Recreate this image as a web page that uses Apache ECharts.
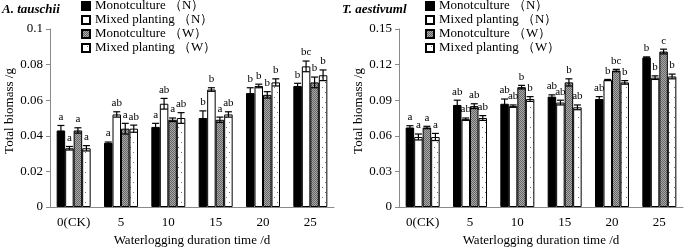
<!DOCTYPE html>
<html>
<head>
<meta charset="utf-8">
<script src="https://cdn.jsdelivr.net/npm/echarts@6/dist/echarts.min.js"></script>
<style>
  html, body { margin: 0; padding: 0; background: #fff; }
  #chart { width: 685px; height: 247px; }
</style>
</head>
<body>
<div id="chart"></div>
<script>
const categories = ['0(CK)', '5', '10', '15', '20', '25'];
const seriesNames = ['Monotculture （N）', 'Mixed planting （N）', 'Monotculture （W）', 'Mixed planting （W）'];

// A. tauschii
const aMonoN = [0.043, 0.036, 0.045, 0.050, 0.064, 0.068];
const aMixN = [0.033, 0.052, 0.058, 0.066, 0.068, 0.079];
const aMonoW = [0.043, 0.044, 0.049, 0.049, 0.063, 0.070];
const aMixW = [0.033, 0.044, 0.050, 0.052, 0.070, 0.074];
const aMonoNErr = [0.0028, 0.0005, 0.002, 0.004, 0.003, 0.0015];
const aMixNErr = [0.001, 0.0015, 0.003, 0.001, 0.001, 0.003];
const aMonoWErr = [0.0015, 0.003, 0.001, 0.0015, 0.0018, 0.003];
const aMixWErr = [0.0015, 0.002, 0.003, 0.0015, 0.002, 0.003];
const aMonoNSig = ['a', 'a', 'a', 'b', 'b', 'b'];
const aMixNSig = ['a', 'ab', 'ab', 'b', 'b', 'bc'];
const aMonoWSig = ['a', 'a', 'a', 'a', 'b', 'b'];
const aMixWSig = ['a', 'ab', 'ab', 'ab', 'b', 'b'];

// T. aestivuml
const tMonoN = [0.067, 0.086, 0.087, 0.093, 0.091, 0.126];
const tMixN = [0.059, 0.074, 0.085, 0.088, 0.107, 0.109];
const tMonoW = [0.067, 0.085, 0.101, 0.105, 0.115, 0.131];
const tMixW = [0.059, 0.075, 0.091, 0.084, 0.105, 0.110];
const tMonoNErr = [0.0015, 0.004, 0.004, 0.0015, 0.002, 0.0005];
const tMixNErr = [0.0025, 0.001, 0.001, 0.002, 0.0005, 0.0015];
const tMonoWErr = [0.001, 0.002, 0.0015, 0.003, 0.001, 0.002];
const tMixWErr = [0.003, 0.002, 0.002, 0.002, 0.0015, 0.002];
const tMonoNSig = ['a', 'ab', 'ab', 'ab', 'ab', 'b'];
const tMixNSig = ['a', 'ab', 'ab', 'ab', 'b', 'b'];
const tMonoWSig = ['a', 'ab', 'b', 'b', 'bc', 'c'];
const tMixWSig = ['a', 'ab', 'b', 'ab', 'b', 'b'];

const aTicks = { max: 0.1, interval: 0.02 };
const tTicks = { max: 0.15, interval: 0.03 };

const serif = 'Liberation Serif, Times New Roman, serif';
const axisGray = '#8a8a8a';
const barW = 8.5;

function checkerPattern() {
  const c = document.createElement('canvas');
  c.width = 2; c.height = 2;
  const ctx = c.getContext('2d');
  ctx.fillStyle = '#a9a9a9';
  ctx.fillRect(0, 0, 2, 2);
  ctx.fillStyle = '#666';
  ctx.fillRect(0, 0, 1, 1);
  ctx.fillRect(1, 1, 1, 1);
  return { image: c, repeat: 'repeat' };
}

function dotPattern() {
  const c = document.createElement('canvas');
  c.width = 8; c.height = 10;
  const ctx = c.getContext('2d');
  ctx.fillStyle = '#fff';
  ctx.fillRect(0, 0, 8, 10);
  ctx.fillStyle = '#777';
  ctx.fillRect(5, 2, 1, 1);
  ctx.fillRect(2, 7, 1, 1);
  return { image: c, repeat: 'repeat' };
}

const fills = ['#000', '#fff', checkerPattern(), dotPattern()];

function barSeries(name, data, idx, axis) {
  return {
    name: name,
    type: 'bar',
    xAxisIndex: axis,
    yAxisIndex: axis,
    data: data,
    barWidth: barW,
    barGap: '0%',
    itemStyle: { color: fills[idx], borderColor: '#000', borderWidth: 1 },
    z: 2
  };
}

function errSeries(vals, errs, sigs, idx, axis) {
  return {
    type: 'custom',
    xAxisIndex: axis,
    yAxisIndex: axis,
    data: vals.map((v, i) => [i, v, errs[i]]),
    z: 5,
    silent: true,
    renderItem: function (params, api) {
      const ci = api.value(0);
      const v = api.value(1);
      const e = api.value(2);
      const x = api.coord([ci, v])[0] + (idx - 1.5) * barW;
      const yTop = api.coord([ci, v + e])[1];
      const yBot = api.coord([ci, v - e])[1];
      const st = { stroke: '#000', lineWidth: 1.2 };
      return {
        type: 'group',
        children: [
          { type: 'line', shape: { x1: x, y1: yTop, x2: x, y2: yBot }, style: st },
          { type: 'line', shape: { x1: x - 3.5, y1: yTop, x2: x + 3.5, y2: yTop }, style: st },
          { type: 'line', shape: { x1: x - 3.5, y1: yBot, x2: x + 3.5, y2: yBot }, style: st },
          {
            type: 'text',
            style: {
              x: x, y: yTop - 3, text: sigs[params.dataIndex],
              textAlign: 'center', textVerticalAlign: 'bottom',
              font: '11px ' + serif, fill: '#000'
            }
          }
        ]
      };
    }
  };
}

function makeAxes(ticks, gridIdx) {
  const x = {
    type: 'category',
    gridIndex: gridIdx,
    data: categories,
    name: 'Waterlogging duration time /d',
    nameLocation: 'middle',
    nameGap: 24,
    nameTextStyle: { fontFamily: serif, fontSize: 13, color: '#000' },
    axisLine: { lineStyle: { color: axisGray, width: 1 } },
    axisTick: { length: 4, lineStyle: { color: axisGray } },
    axisLabel: { fontFamily: serif, fontSize: 13, color: '#000', margin: 9 }
  };
  const y = {
    type: 'value',
    gridIndex: gridIdx,
    min: 0,
    max: ticks.max,
    interval: ticks.interval,
    name: 'Total biomass /g',
    nameLocation: 'middle',
    nameGap: 30,
    nameTextStyle: { fontFamily: serif, fontSize: 13, color: '#000', padding: [0, 0, 0, 14] },
    axisLine: { show: true, lineStyle: { color: axisGray, width: 1 } },
    axisTick: { show: true, length: 4, lineStyle: { color: axisGray } },
    axisLabel: { fontFamily: serif, fontSize: 13, color: '#000', margin: 7 },
    splitLine: { show: false }
  };
  return { x, y };
}

const aAxes = makeAxes(aTicks, 0);
const tAxes = makeAxes(tTicks, 1);

const legendBase = {
  orient: 'vertical',
  top: -1,
  padding: 0,
  itemGap: 0,
  itemWidth: 8,
  itemHeight: 8,
  icon: 'rect',
  data: seriesNames,
  textStyle: { fontFamily: serif, fontSize: 13, color: '#000', lineHeight: 14 }
};

const chart = echarts.init(document.getElementById('chart'), null, { renderer: 'canvas' });

const option = {
  animation: false,
  backgroundColor: '#fff',
  title: [
    {
      text: 'A. tauschii', left: 2, top: 3, padding: 0,
      textStyle: { fontFamily: serif, fontStyle: 'italic', fontWeight: 'bold', fontSize: 13, color: '#000' }
    },
    {
      text: 'T. aestivuml', left: 342, top: 3, padding: 0,
      textStyle: { fontFamily: serif, fontStyle: 'italic', fontWeight: 'bold', fontSize: 13, color: '#000' }
    }
  ],
  legend: [
    Object.assign({}, legendBase, { left: 81 }),
    Object.assign({}, legendBase, { left: 425 })
  ],
  grid: [
    { left: 50, right: 351, top: 29, bottom: 40, outerBoundsMode: 'none' },
    { left: 399, right: 2, top: 29, bottom: 40, outerBoundsMode: 'none' }
  ],
  xAxis: [aAxes.x, tAxes.x],
  yAxis: [aAxes.y, tAxes.y],
  series: [
    barSeries(seriesNames[0], aMonoN, 0, 0),
    barSeries(seriesNames[1], aMixN, 1, 0),
    barSeries(seriesNames[2], aMonoW, 2, 0),
    barSeries(seriesNames[3], aMixW, 3, 0),
    barSeries(seriesNames[0], tMonoN, 0, 1),
    barSeries(seriesNames[1], tMixN, 1, 1),
    barSeries(seriesNames[2], tMonoW, 2, 1),
    barSeries(seriesNames[3], tMixW, 3, 1),
    errSeries(aMonoN, aMonoNErr, aMonoNSig, 0, 0),
    errSeries(aMixN, aMixNErr, aMixNSig, 1, 0),
    errSeries(aMonoW, aMonoWErr, aMonoWSig, 2, 0),
    errSeries(aMixW, aMixWErr, aMixWSig, 3, 0),
    errSeries(tMonoN, tMonoNErr, tMonoNSig, 0, 1),
    errSeries(tMixN, tMixNErr, tMixNSig, 1, 1),
    errSeries(tMonoW, tMonoWErr, tMonoWSig, 2, 1),
    errSeries(tMixW, tMixWErr, tMixWSig, 3, 1)
  ]
};

chart.setOption(option);
</script>
</body>
</html>
